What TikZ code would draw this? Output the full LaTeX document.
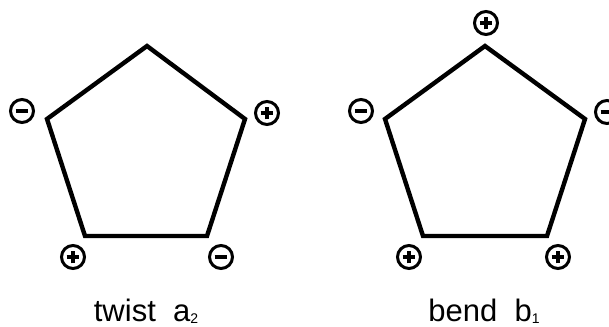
\documentclass[tikz,border=0pt]{standalone}
\usepackage{fontspec}
\setmainfont{Liberation Sans}
\usepackage{tikz}
\usetikzlibrary{positioning, calc}

\newcommand{\subidx}[1]{\raisebox{-1pt}{\fontsize{7}{8}\selectfont #1}}

\begin{document}
\begin{tikzpicture}[
  x=0.5pt, y=-0.5pt,
  ring/.style={line width=2.2pt, line join=miter},
  signminus/.style={circle, draw, line width=1.5pt, minimum size=11.5pt, inner sep=0pt,
    path picture={\draw[line width=1.6pt]
      ([xshift=-3.2pt]path picture bounding box.center) -- ([xshift=3.2pt]path picture bounding box.center);}},
  signplus/.style={signminus,
    path picture={\draw[line width=1.6pt]
      ([xshift=-3.2pt]path picture bounding box.center) -- ([xshift=3.2pt]path picture bounding box.center)
      ([yshift=-3.2pt]path picture bounding box.center) -- ([yshift=3.2pt]path picture bounding box.center);}},
  caption/.style={font=\fontsize{15.5}{18}\selectfont, anchor=base}
]
  \useasboundingbox (0,0) rectangle (609,326);

  % twist (left)
  \coordinate (tA) at (147,46);
  \coordinate (tB) at (245,119);
  \coordinate (tC) at (207,236);
  \coordinate (tD) at (85,236);
  \coordinate (tE) at (47,119);
  \draw[ring] (tA) -- (tB) -- (tC) -- (tD) -- (tE) -- cycle;
  \node[signplus]  (tBs) at (267,113) {};
  \node[signminus] (tCs) at (221,257) {};
  \node[signplus]  (tDs) at (73,257) {};
  \node[signminus] (tEs) at (22,111) {};
  \node[caption] (tlab) at (146,321) {twist\ \ a\subidx{2}};

  % bend (right)
  \coordinate (bA) at (485,46);
  \coordinate (bB) at (585,119);
  \coordinate (bC) at (547,236);
  \coordinate (bD) at (423,236);
  \coordinate (bE) at (385,119);
  \draw[ring] (bA) -- (bB) -- (bC) -- (bD) -- (bE) -- cycle;
  \node[signplus]  (bAs) at (486,23) {};
  \node[signminus] (bBs) at (607,112) {};
  \node[signplus]  (bCs) at (558,257) {};
  \node[signplus]  (bDs) at (409,257) {};
  \node[signminus] (bEs) at (361,111) {};
  \node[caption] (blab) at (484,321) {bend\ \ b\subidx{1}};
\end{tikzpicture}
\end{document}
